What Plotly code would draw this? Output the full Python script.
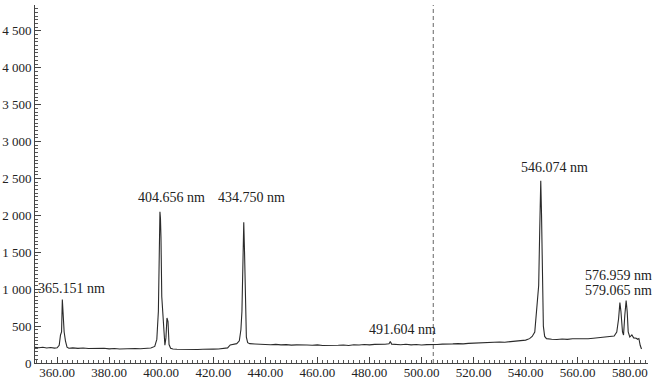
import plotly.graph_objects as go

# Spectrum (wavelength in nm, intensity in counts)
wavelength = [351.5, 353.0, 354.5, 356.0, 357.5, 359.0, 360.0, 360.8, 361.3, 361.7, 362.0, 362.3, 362.7, 363.2, 363.8,
              364.5, 366.0, 368.0, 370.0, 372.0, 374.0, 376.0, 378.0, 380.0, 382.0, 384.0, 386.0, 388.0, 390.0,
              392.0, 394.0, 396.0, 397.5, 398.3, 398.9, 399.3, 399.5, 399.7, 399.9, 400.2, 400.6, 401.0, 401.4,
              401.8, 402.2, 402.6, 403.0, 403.6, 404.5, 406.0, 408.0, 410.0, 412.0, 414.0, 416.0, 418.0, 420.0,
              422.0, 424.0, 425.5, 426.5, 428.0, 429.0, 430.0, 430.6, 431.0, 431.4, 431.7, 432.0, 432.3, 432.7,
              433.2, 434.0, 436.0, 438.0, 440.0, 442.0, 444.0, 446.0, 448.0, 450.0, 452.0, 454.0, 456.0, 458.0,
              460.0, 462.0, 464.0, 466.0, 468.0, 470.0, 472.0, 474.0, 476.0, 478.0, 480.0, 482.0, 484.0, 486.0,
              487.5, 488.0, 488.5, 490.0, 492.0, 494.0, 496.0, 498.0, 500.0, 502.0, 504.0, 506.0, 508.0, 510.0,
              512.0, 514.0, 516.0, 518.0, 520.0, 522.0, 524.0, 526.0, 528.0, 530.0, 532.0, 534.0, 536.0, 538.0,
              540.0, 541.5, 542.5, 543.5, 544.5, 545.0, 545.4, 545.8, 546.1, 546.4, 546.8, 547.3, 548.0, 550.0,
              552.0, 554.0, 556.0, 558.0, 560.0, 562.0, 564.0, 566.0, 568.0, 570.0, 572.0, 574.0, 575.0, 575.7,
              576.2, 576.6, 577.2, 577.6, 578.1, 578.6, 579.0, 579.4, 580.0, 580.8, 581.5, 582.5, 583.0, 583.5,
              584.0, 584.5]
intensity = [212, 206, 214, 204, 209, 201, 206, 240, 380, 420, 860, 560, 420, 300, 215,
             200, 205, 198, 203, 196, 200, 194, 199, 192, 197, 190, 195, 191, 197,
             193, 199, 203, 225, 320, 700, 1700, 2050, 1960, 1700, 900, 680, 480, 240,
             340, 610, 560, 250, 200, 190, 186, 183, 180, 178, 182, 186, 183, 188,
             190, 196, 205, 245, 250, 262, 300, 450, 700, 1300, 1905, 1500, 700, 350,
             275, 262, 258, 252, 256, 248, 252, 245, 249, 242, 246, 240, 244, 240,
             245, 238, 242, 236, 240, 243, 237, 248, 243, 250, 245, 252, 248, 254,
             260, 292, 256, 252, 247, 253, 246, 251, 244, 249, 246, 251, 256, 253,
             259, 263, 259, 266, 270, 268, 275, 272, 280, 285, 282, 290, 292, 300,
             310, 330, 360, 420, 800, 1050, 1800, 2470, 2000, 1100, 500, 360, 330, 322,
             318, 325, 320, 328, 325, 330, 328, 335, 340, 345, 352, 365, 420, 600,
             820, 700, 420, 380, 650, 845, 700, 420, 352, 380, 340, 336, 322, 332,
             240, 190]

line_labels = ["365.151 nm", "404.656 nm", "434.750 nm", "491.604 nm", "546.074 nm", "576.959 nm", "579.065 nm"]
label_x = [365.4, 403.8, 434.5, 492.6, 551.2, 587.0, 587.0]
label_y = [1013, 2243, 2243, 460, 2649, 1189, 986]
label_anchor = ["center", "center", "center", "center", "center", "right", "right"]
label_shift = [0, 0, 0, 0, 0, 6, 6]

marker_wavelength = 504.5

font_family = "Liberation Serif"

fig = go.Figure()
fig.add_trace(go.Scatter(x=wavelength, y=intensity, mode="lines",
                         line=dict(color="#2b2b2b", width=1.1), showlegend=False))

fig.add_shape(type="line", x0=marker_wavelength, x1=marker_wavelength, y0=0, y1=1,
              xref="x", yref="paper", line=dict(color="#666666", width=1, dash="4px,3px"))

for txt, ax_, ay_, anc, sh in zip(line_labels, label_x, label_y, label_anchor, label_shift):
    fig.add_annotation(x=ax_, y=ay_, text=txt, showarrow=False, xref="x", yref="y", xanchor=anc,
                       xshift=sh, font=dict(family=font_family, size=14, color="#222222"))

fig.update_layout(
    width=655, height=380,
    margin=dict(l=35, r=7, t=5, b=17),
    paper_bgcolor="white", plot_bgcolor="white",
    separators=". ",
    font=dict(family=font_family, size=13, color="#222222"),
)
fig.update_xaxes(range=[351.5, 587], tickmode="linear", tick0=360, dtick=20, tickformat=".2f",
                 automargin=False, ticklabelstandoff=-3,
                 showgrid=False, zeroline=False, showline=True, linecolor="#444444", linewidth=1,
                 ticks="inside", ticklen=6, tickcolor="#444444",
                 minor=dict(dtick=2, tick0=360, ticks="inside", ticklen=3, tickcolor="#555555", showgrid=False),
                 tickfont=dict(family=font_family, size=13, color="#222222"))
fig.update_yaxes(range=[0, 4850], tickmode="linear", tick0=0, dtick=500, tickformat=",d",
                 automargin=False,
                 showgrid=False, zeroline=False, showline=True, linecolor="#444444", linewidth=1,
                 ticks="inside", ticklen=6, tickcolor="#444444",
                 minor=dict(dtick=50, ticks="inside", ticklen=3, tickcolor="#555555", showgrid=False),
                 tickfont=dict(family=font_family, size=13, color="#222222"))

fig.write_html("out.html")
